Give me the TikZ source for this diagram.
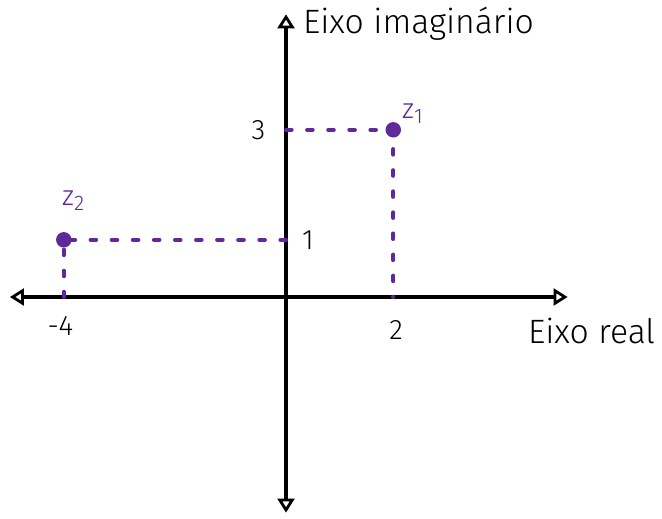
\documentclass[tikz,border=0pt]{standalone}
\usepackage{fontspec}
\setmainfont{Fira Sans}[UprightFont=* Light]
\usetikzlibrary{arrows.meta}
\definecolor{roxo}{HTML}{5E2A9A}

\begin{document}
\begin{tikzpicture}[x=1.375cm,y=1.375cm,>={Triangle[open,length=10pt,width=12pt,line width=2pt]}]
  \useasboundingbox (-5.2,-4.036) rectangle (6.836,5.4);
  \coordinate (O) at (0,0);
  \coordinate (z1) at (1.95,3.04);
  \coordinate (z2) at (-4.04,1.04);
  \coordinate (x2) at (1.95,0);
  \coordinate (xm4) at (-4.04,0);
  \coordinate (y3) at (0,3.04);
  \coordinate (y1) at (0,1.04);
  \draw[line width=2.6pt,<->] (-5.02,0) -- (5.12,0);
  \draw[line width=2.6pt,<->] (0,-3.92) -- (0,5.14);
  \node[right,font=\fontsize{24}{28}\selectfont] (eixoIm) at (0.22,4.97) {Eixo imaginário};
  \node[anchor=east,font=\fontsize{24}{28}\selectfont] (eixoRe) at (6.80,-0.62) {Eixo real};
  \draw[roxo,line width=2.8pt,line cap=round,dash pattern=on 4pt off 11pt]
    (y3) -- (z1) -- (x2);
  \draw[roxo,line width=2.8pt,line cap=round,dash pattern=on 4pt off 11pt]
    (y1) -- (z2) -- (xm4);
  \fill[roxo] (z1) circle(5.5pt);
  \fill[roxo] (z2) circle(5.5pt);
  \node[roxo,font=\fontsize{20}{24}\selectfont] (lz1) at (2.3,3.33) {z\raisebox{-0.35ex}{\fontsize{15}{18}\selectfont 1}};
  \node[roxo,font=\fontsize{20}{24}\selectfont] (lz2) at (-3.87,1.75) {z\raisebox{-0.35ex}{\fontsize{15}{18}\selectfont 2}};
  \node[font=\fontsize{20}{24}\selectfont] (t3) at (-0.5,3.04) {3};
  \node[font=\fontsize{20}{24}\selectfont] (t1) at (0.4,1.04) {1};
  \node[font=\fontsize{20}{24}\selectfont] (t2) at (2.0,-0.6) {2};
  \node[font=\fontsize{20}{24}\selectfont] (tm4) at (-4.1,-0.52) {-4};
\end{tikzpicture}
\end{document}
